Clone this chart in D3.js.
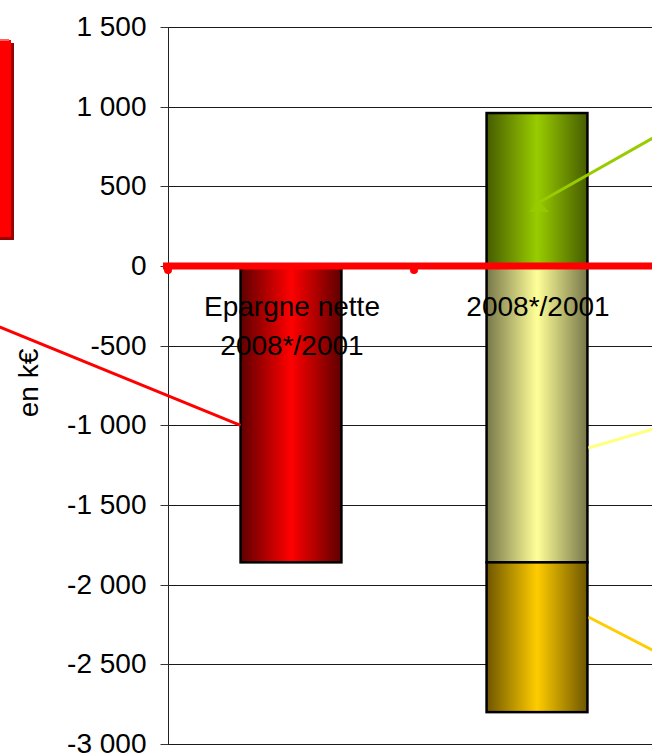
<!DOCTYPE html>
<html>
<head>
<meta charset="utf-8">
<script src="https://cdn.jsdelivr.net/npm/d3@7/dist/d3.min.js"></script>
<style>
  html, body { margin: 0; padding: 0; background: #fff; }
  svg { display: block; font-family: "Liberation Sans", Arial, sans-serif; }
</style>
</head>
<body>
<svg id="chart" width="652" height="754"></svg>
<script>
// ---- data ----
const categories = ["Epargne nette|2008*/2001", "2008*/2001"];
const epargne   = [-1860, 0];     // red bar
const positif   = [0, 960];       // green (above 0)
const negatif1  = [0, -1860];     // pale yellow (below 0)
const negatif2  = [0, -940];      // gold (stacked below pale yellow)
const yTicks = [-3000, -2500, -2000, -1500, -1000, -500, 0, 500, 1000, 1500];
const yLabel = "en k€";

const svg = d3.select("#chart");
const W = 652;
const FS = 28;
const plotLeft = 168, plotRight = 660, plotTop = 27, plotBottom = 744;

const x = d3.scaleBand().domain(categories).range([plotLeft, plotRight])
  .paddingInner(0.59).paddingOuter(0.295);
const y = d3.scaleLinear().domain([-3000, 1500]).range([plotBottom, plotTop]);

const fmt = v => {
  const s = d3.format(",")(Math.abs(v)).replace(/,/g, " ");
  return (v < 0 ? "-" : "") + s;
};

// gradients
const defs = svg.append("defs");
function grad(id, edge, center) {
  const g = defs.append("linearGradient").attr("id", id).attr("x1", "0%").attr("x2", "100%");
  g.append("stop").attr("offset", "0%").attr("stop-color", edge);
  g.append("stop").attr("offset", "50%").attr("stop-color", center);
  g.append("stop").attr("offset", "100%").attr("stop-color", edge);
}
grad("gRed", "#5e0000", "#ff0000");
grad("gGreen", "#465c00", "#99cc00");
grad("gPale", "#77774a", "#ffff99");
grad("gGold", "#6e5600", "#ffcc00");

// red box at top-left (partial legend-like shape)
svg.append("rect").attr("x", -10).attr("y", 43).attr("width", 24).attr("height", 197).attr("fill", "#990000");
svg.append("rect").attr("x", -10).attr("y", 40).attr("width", 21).attr("height", 197).attr("fill", "#ff0000");
svg.append("rect").attr("x", -10).attr("y", 39).attr("width", 19).attr("height", 2).attr("fill", "#ff6060");

// gridlines
svg.append("g").selectAll("line").data(yTicks).join("line")
  .attr("x1", plotLeft).attr("x2", W)
  .attr("y1", d => Math.round(y(d)) + 0.5).attr("y2", d => Math.round(y(d)) + 0.5)
  .attr("stroke", "#1a1a1a").attr("stroke-width", 1);

// y axis
const yAxis = d3.axisLeft(y).tickValues(yTicks).tickFormat(fmt).tickSize(8).tickPadding(14);
const ag = svg.append("g").attr("transform", `translate(${plotLeft + 0.5},0)`).call(yAxis);
ag.select(".domain").attr("stroke", "#222").attr("d", `M0,${plotTop}V${plotBottom}`);
ag.selectAll(".tick line").attr("stroke", "#333");
ag.selectAll(".tick text").attr("font-size", FS).attr("fill", "#000")
  .attr("font-family", "Liberation Sans, Arial, sans-serif");
ag.selectAll(".tick").attr("transform", d => `translate(0,${Math.round(y(d)) + 0.5})`);

// y label
svg.append("text").attr("transform", `translate(38,383) rotate(-90)`)
  .attr("text-anchor", "middle").attr("font-size", FS).text(yLabel);

// bars
const bw = x.bandwidth();
const barG = svg.append("g");
function bar(cat, v0, v1, fill) {
  const top = y(Math.max(v0, v1)), bot = y(Math.min(v0, v1));
  barG.append("rect").attr("x", x(cat)).attr("y", top).attr("width", bw).attr("height", bot - top)
    .attr("fill", fill).attr("stroke", "#000").attr("stroke-width", 2.5);
}
bar(categories[0], 0, epargne[0], "url(#gRed)");
bar(categories[1], 0, positif[1], "url(#gGreen)");
bar(categories[1], 0, negatif1[1], "url(#gPale)");
bar(categories[1], negatif1[1], negatif1[1] + negatif2[1], "url(#gGold)");

// callout lines (to labels outside view)
const x0c = x(categories[0]), x1c = x(categories[1]);
svg.append("line").attr("x1", -5).attr("y1", 325).attr("x2", x0c).attr("y2", y(-1000)).attr("stroke", "#ff0000").attr("stroke-width", 3);
svg.append("line").attr("x1", x1c + bw / 2 + 1).attr("y1", 203).attr("x2", 660).attr("y2", 134).attr("stroke", "#99cc00").attr("stroke-width", 3);
svg.append("path").attr("d", `M${x1c + bw / 2 + 1},200 L${x1c + bw / 2 - 8},212 L${x1c + bw / 2 + 12},212 Z`).attr("fill", "#99cc00").attr("opacity", 0.7);
svg.append("line").attr("x1", x1c + bw + 1).attr("y1", 448).attr("x2", 660).attr("y2", 427).attr("stroke", "#ffff80").attr("stroke-width", 3);
svg.append("line").attr("x1", x1c + bw + 1).attr("y1", 617).attr("x2", 660).attr("y2", 654).attr("stroke", "#ffcc00").attr("stroke-width", 3);

// zero red line with markers at band boundaries
const y0 = y(0);
svg.append("line").attr("x1", plotLeft - 5).attr("x2", W).attr("y1", y0).attr("y2", y0)
  .attr("stroke", "#ff0000").attr("stroke-width", 7);
svg.selectAll("circle.m").data([plotLeft, x.range()[0] + x.step()]).join("circle")
  .attr("cx", d => d).attr("cy", y0 + 4).attr("r", 4).attr("fill", "#ff0000");

// category labels
const lab = svg.append("g").attr("font-size", FS).attr("text-anchor", "middle").attr("fill", "#000");
categories.forEach(c => {
  const lines = c.split("|");
  lines.forEach((t, i) => {
    lab.append("text").attr("x", x(c) + bw / 2 + 1).attr("y", 316 + i * 39).text(t);
  });
});
</script>
</body>
</html>
